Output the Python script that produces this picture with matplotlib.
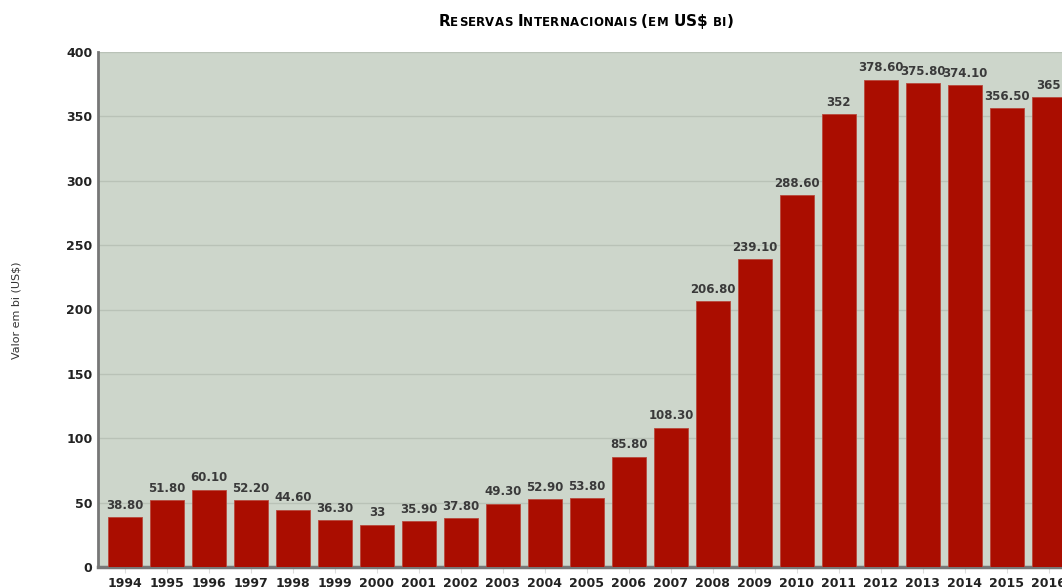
import matplotlib.pyplot as plt
import numpy as np

# ===========================
# DATA
# ===========================
years = ["1994", "1995", "1996", "1997", "1998", "1999", "2000", "2001",
         "2002", "2003", "2004", "2005", "2006", "2007", "2008", "2009",
         "2010", "2011", "2012", "2013", "2014", "2015", "2016"]
reserves = [38.8, 51.8, 60.1, 52.2, 44.6, 36.3, 33.0, 35.9, 37.8, 49.3,
            52.9, 53.8, 85.8, 108.3, 206.8, 239.1, 288.6, 352.0, 378.6,
            375.8, 374.1, 356.5, 365.0]
value_labels = ["38.80", "51.80", "60.10", "52.20", "44.60", "36.30", "33",
                "35.90", "37.80", "49.30", "52.90", "53.80", "85.80", "108.30",
                "206.80", "239.10", "288.60", "352", "378.60", "375.80",
                "374.10", "356.50", "365"]
yticks = [0, 50, 100, 150, 200, 250, 300, 350, 400]

# ===========================
# FIGURE
# ===========================
W, H = 1062, 588
fig = plt.figure(figsize=(W / 100, H / 100), dpi=100)
fig.patch.set_facecolor("white")

# axes runs past the right edge, like the clipped original
x_left, x_right = -0.64, 22.6
px_per_cat = 42.0
ax_left_px, ax_bottom_px, ax_top_px = 98, 567, 52
ax_w_px = (x_right - x_left) * px_per_cat
ax = fig.add_axes([ax_left_px / W, (H - ax_bottom_px) / H,
                   ax_w_px / W, (ax_bottom_px - ax_top_px) / H])
ax.set_facecolor("#cdd6cb")

x = np.arange(len(years))
bars = ax.bar(x, reserves, width=0.8, color="#aa0d00",
              edgecolor="#b8483c", linewidth=0.6, zorder=3)

for xi, v, lab in zip(x, reserves, value_labels):
    ax.text(xi, v + 4, lab, ha="center", va="bottom", fontsize=8.5,
            fontweight="bold", color="#3a3a3a", zorder=4)

ax.set_xlim(x_left, x_right)
ax.set_ylim(0, 400)
ax.set_yticks(yticks)
ax.set_xticks(x)
ax.set_xticklabels(years)

ax.grid(axis="y", color="#b9c2b7", linewidth=1, zorder=1)
ax.tick_params(axis="y", length=0, pad=4, labelsize=9, labelcolor="#222")
ax.tick_params(axis="x", length=4, color="#dddddd", pad=3, labelsize=9,
               labelcolor="#222")
for lab in ax.get_xticklabels() + ax.get_yticklabels():
    lab.set_fontweight("bold")

for side in ["top", "right"]:
    ax.spines[side].set_visible(False)
ax.spines["left"].set_color("#777777")
ax.spines["left"].set_linewidth(2)
ax.spines["bottom"].set_color("#777777")
ax.spines["bottom"].set_linewidth(2.5)

fig.text(17 / W, 1 - 310 / H, "Valor em bi (US$)", rotation=90,
         ha="center", va="center", fontsize=8, color="#333")

# ===========================
# Small-caps title
# ===========================
title = "Reservas Internacionais (em US$ bi)"
pieces = []
for word in title.split(" "):
    for ch in word:
        big = ch.isupper() or not ch.isalpha()
        pieces.append((ch.upper(), 11 if big else 8.5))
    pieces.append((" ", 8.5))
pieces = pieces[:-1]

renderer = fig.canvas.get_renderer()
texts = []
for s, size in pieces:
    t = fig.text(0, 1 - 26 / H, s, fontsize=size, fontweight="heavy",
                 color="black", ha="left", va="baseline")
    texts.append(t)
widths = []
for t in texts:
    if t.get_text() == " ":
        widths.append(4.5)
    else:
        widths.append(t.get_window_extent(renderer).width + 0.3)
total = sum(widths)
start = 586 - total / 2
for t, w in zip(texts, widths):
    t.set_x(start / W)
    start += w

fig.savefig("out.png", dpi=100)
